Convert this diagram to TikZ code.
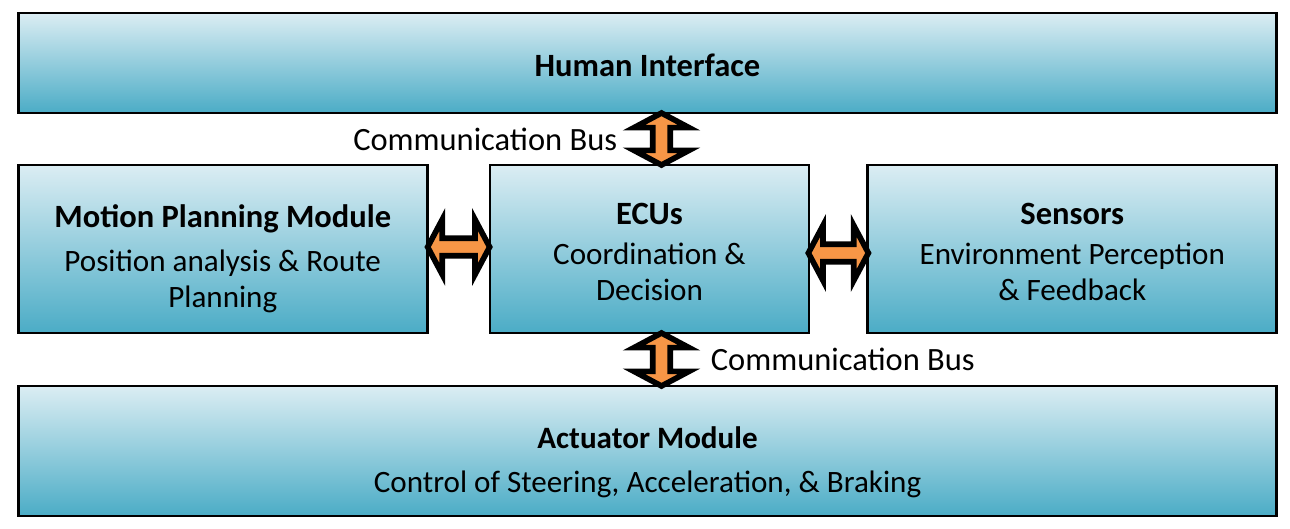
\documentclass[tikz,border=0pt]{standalone}
\usepackage{fontspec}
\setmainfont{Carlito}
\usetikzlibrary{positioning,shapes.arrows,calc}

\definecolor{boxtop}{RGB}{219,237,243}
\definecolor{boxbottom}{RGB}{75,172,198}
\definecolor{busorange}{RGB}{247,150,70}

\newcommand{\modtitle}[1]{{\fontsize{18.5}{20.8}\selectfont\textbf{#1}}}

\tikzset{
  module/.style={draw=black, line width=1.6pt, top color=boxtop, bottom color=boxbottom, inner sep=0pt},
  moduletext/.style={align=center, inner sep=0pt, font=\fontsize{17.7}{20.8}\selectfont},
  bus/.style={double arrow, draw=black, line width=3.2pt, fill=busorange, inner sep=0pt,
    minimum width=1.1cm, double arrow head extend=0.12cm, double arrow tip angle=124},
  buslabel/.style={font=\fontsize{18.5}{20.8}\selectfont, inner sep=0pt}
}

\begin{document}
\begin{tikzpicture}[x=0.02cm, y=-0.02cm]
\useasboundingbox (0,0) rectangle (1290,528);
%boxes

\node (HMI) [module, minimum width=25.18cm, minimum height=2cm] at (647.5,63) {};
\node (ECU) [module, minimum width=6.38cm, minimum height=3.36cm] at (649.5,249) {};
\node (MPM) [module, minimum width=8.18cm, minimum height=3.36cm, left=1.2cm of ECU] {};
\node (SEN) [module, minimum width=8.18cm, minimum height=3.36cm, right=1.12cm of ECU] {};
\node (ACT) [module, minimum width=25.18cm, minimum height=2.6cm] at (647.5,451) {};

%texts
\node (HMItext) [moduletext, yshift=-0.04cm] at (HMI.center) {\modtitle{Human Interface}};
\node (ECUtext) [moduletext, yshift=-0.06cm] at (ECU.center)
  {\modtitle{ECUs}\\[1.7pt]Coordination \&\\Decision};
\node (MPMtext) [moduletext, yshift=-0.2cm] at (MPM.center)
  {\modtitle{Motion Planning Module}\\[4pt]Position analysis \& Route\\Planning};
\node (SENtext) [moduletext, yshift=-0.06cm] at (SEN.center)
  {\modtitle{Sensors}\\[1.7pt]Environment Perception\\\& Feedback};
\node (ACTtext) [moduletext, yshift=-0.23cm] at (ACT.center)
  {\textbf{Actuator Module}\\[4pt]Control of Steering, Acceleration, \& Braking};

%bus arrows
\coordinate (ecuT) at ($(ECU.north)+(12,0)$);
\coordinate (ecuB) at ($(ECU.south)+(12,0)$);
\node (busT) [bus, rotate=90, minimum height=1.04cm] at ($(ecuT)!0.5!(ecuT|-HMI.south)$) {};
\node (busB) [bus, rotate=90, minimum height=1.06cm] at ($(ecuB)!0.5!(ecuB|-ACT.north)$) {};
\node (busL) [bus, minimum height=1.24cm] at ($(MPM.east)!0.5!(ECU.west)+(0,-2)$) {};
\node (busR) [bus, minimum height=1.2cm] at ($(ECU.east)!0.5!(SEN.west)+(0,4)$) {};

\node (labT) [buslabel, anchor=east] at ($(busT.center)+(-44,0)$) {Communication Bus};
\node (labB) [buslabel, anchor=west] at ($(busB.center)+(49,0)$) {Communication Bus};
\end{tikzpicture}
\end{document}
